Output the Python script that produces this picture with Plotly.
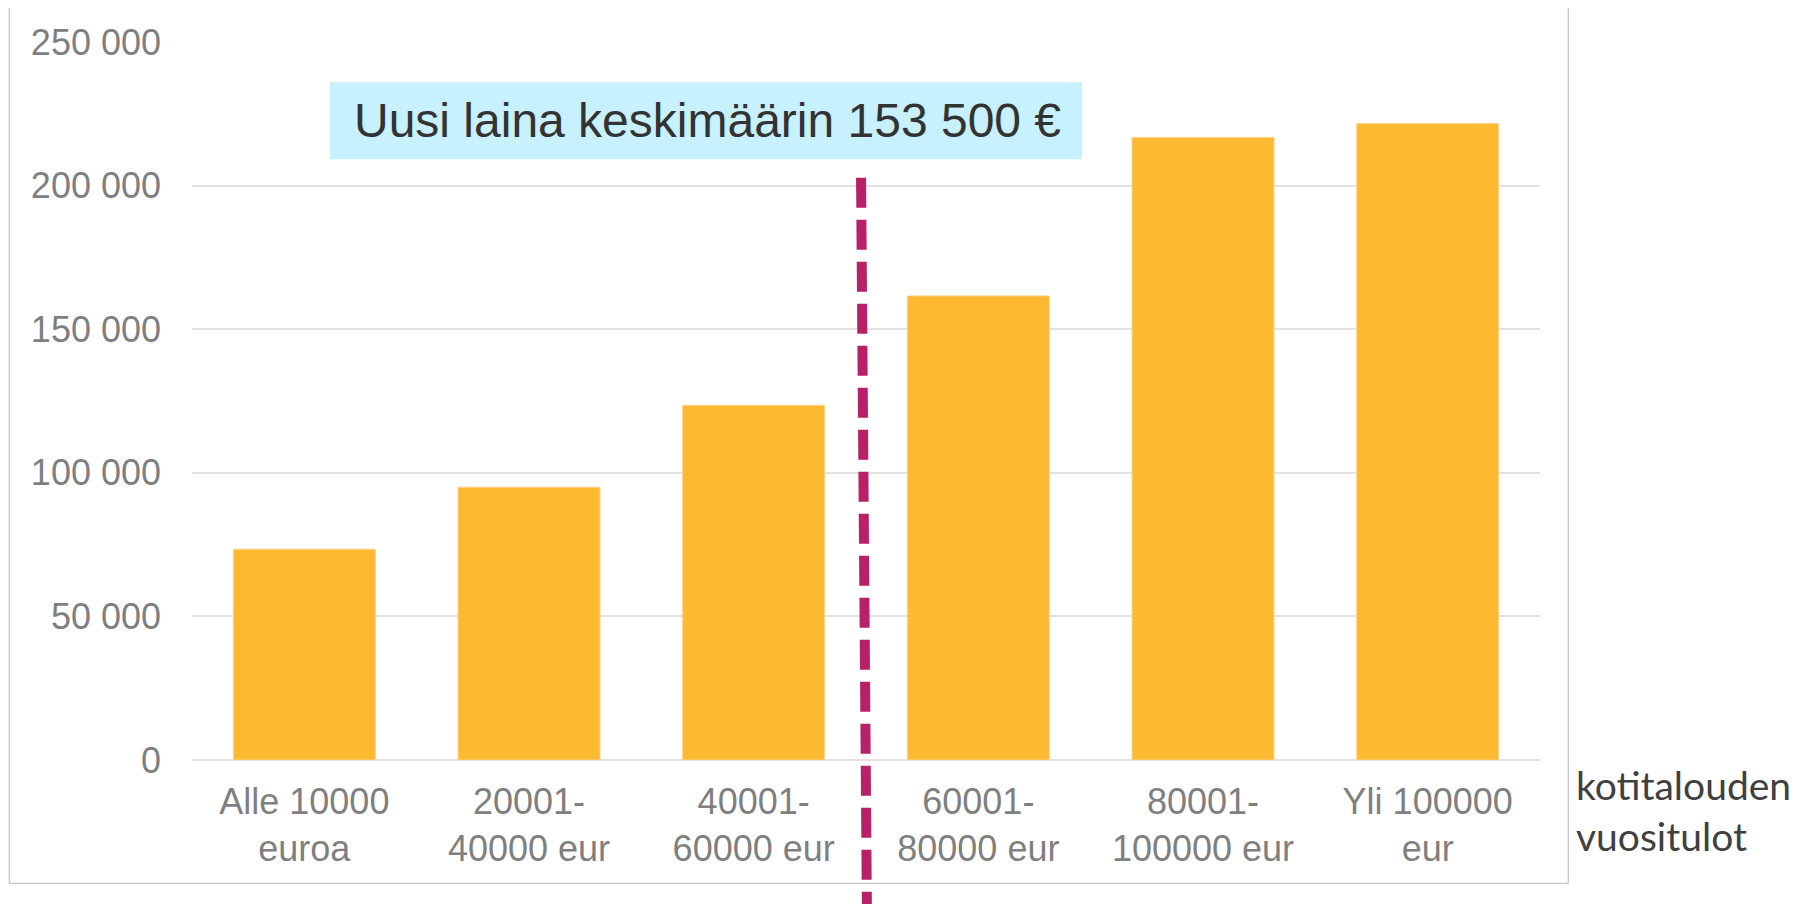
import plotly.graph_objects as go

# ---- data ----
categories = [
    "Alle 10000<br>euroa",
    "20001-<br>40000 eur",
    "40001-<br>60000 eur",
    "60001-<br>80000 eur",
    "80001-<br>100000 eur",
    "Yli 100000<br>eur",
]
values = [73400, 95000, 123500, 161600, 216800, 221600]
y_tickvals = [0, 50000, 100000, 150000, 200000, 250000]
y_ticktext = ["0", "50 000", "100 000", "150 000", "200 000", "250 000"]
callout_text = "Uusi laina keskimäärin 153 500 €"
x_title_text = "kotitalouden<br>vuositulot"
divider_position = 2.5  # between 3rd and 4th category

# ---- layout helpers (pixel geometry, page body has an 8px margin) ----
OFF = 8
W, H = 1806, 904
L, R, T, B = 192 - OFF, 1540 - OFF, 42 - OFF, 760 - OFF


def px(xp):
    return (xp - OFF - L) / (R - L)


def py(yp):
    return (B - (yp - OFF)) / (B - T)


fig = go.Figure()
fig.add_trace(go.Bar(
    x=categories,
    y=values,
    marker=dict(color="#FDB931", line=dict(color="#FDD58A", width=1)),
    hoverinfo="skip",
))

tick_font = dict(family="Liberation Sans, Arial", size=36, color="#7f7f7f")

fig.update_layout(
    width=W, height=H,
    margin=dict(l=L, r=W - R, t=T, b=H - B),
    paper_bgcolor="white",
    plot_bgcolor="white",
    bargap=0.368,
    showlegend=False,
    xaxis=dict(
        range=[-0.5, 5.5],
        tickfont=tick_font,
        showgrid=False,
        showline=False,
        zeroline=False,
        ticks="",
        ticklabelstandoff=17,
    ),
    yaxis=dict(
        range=[0, 250000],
        tickvals=y_tickvals,
        ticktext=y_ticktext,
        tickfont=tick_font,
        showgrid=True,
        gridcolor="#e2e2e2",
        gridwidth=1.6,
        zeroline=True,
        zerolinecolor="#e2e2e2",
        zerolinewidth=1.6,
        showline=False,
        ticks="",
        ticklabelstandoff=30,
    ),
)

# outer frame (left, right, bottom)
frame_col = "#c4c4c4"
fx0, fx1, fy0, fy1 = px(9.3), px(1568.3), py(883.3), py(7)
for (x0, y0, x1, y1) in [(fx0, fy0, fx0, fy1), (fx1, fy0, fx1, fy1), (fx0, fy0, fx1, fy0)]:
    fig.add_shape(type="line", xref="paper", yref="paper",
                  x0=x0, y0=y0, x1=x1, y1=y1,
                  line=dict(color=frame_col, width=1.3), layer="below")

# dashed divider line
fig.add_shape(type="line", xref="x", yref="paper",
              x0=divider_position - 0.022, y0=py(177.7),
              x1=divider_position + 0.004, y1=py(910),
              line=dict(color="#B82068", width=10, dash="30px,12px"))

# callout box
fig.add_shape(type="rect", xref="paper", yref="paper",
              x0=px(330), x1=px(1082), y0=py(159.3), y1=py(82.3),
              fillcolor="#C7F1FE", line=dict(width=0))
fig.add_annotation(xref="paper", yref="paper", x=px(707), y=py(120),
                   text=callout_text, showarrow=False,
                   xanchor="center", yanchor="middle",
                   font=dict(family="Liberation Sans, Arial", size=48, color="#333333"))

# axis description at right
fig.add_annotation(xref="paper", yref="paper", x=px(1574), y=py(810),
                   text=x_title_text, showarrow=False, align="left",
                   xanchor="left", yanchor="middle",
                   font=dict(family="Lato", size=39, color="#404040"))

fig.write_html("out.html")
